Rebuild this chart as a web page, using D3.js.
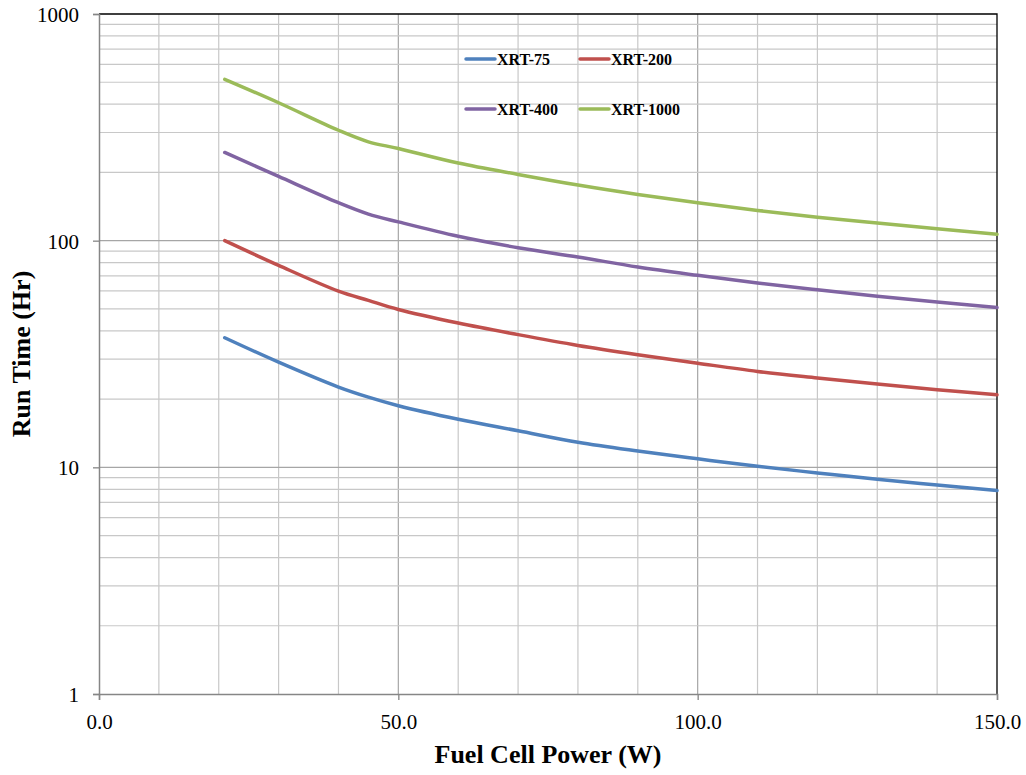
<!DOCTYPE html>
<html>
<head>
<meta charset="utf-8">
<script src="https://cdn.jsdelivr.net/npm/d3@7"></script>
<style>
  body { margin: 0; background: #fff; }
  svg { display: block; font-family: "Liberation Serif", "Times New Roman", serif; }
</style>
</head>
<body>
<div id="chart"></div>
<script>
// fuel cell power (W) where values were read
let powers = [21, 30, 40, 45, 50, 60, 70, 80, 90, 100, 110, 120, 130, 140, 150];

// run time (Hr) for each cartridge
let xrt75 = [37.3, 29.1, 22.6, 20.4, 18.7, 16.3, 14.5, 12.9, 11.8, 10.9, 10.1, 9.45, 8.85, 8.36, 7.9];
let xrt200 = [100, 77.8, 59.9, 54.5, 49.7, 43.3, 38.5, 34.5, 31.4, 28.8, 26.5, 24.8, 23.3, 22.0, 20.9];
let xrt400 = [245, 192, 147, 131, 121, 104.5, 93.1, 84.7, 76.5, 70.3, 65.0, 60.7, 56.9, 53.6, 50.7];
let xrt1000 = [515, 406, 307, 273, 255, 220, 196, 176, 160, 147, 136, 127, 119.7, 113, 106.7];

let seriesNames = ["XRT-75", "XRT-200", "XRT-400", "XRT-1000"];
let seriesColors = ["#4F81BD", "#C0504D", "#8064A2", "#9BBB59"];

let xTicks = [0, 50, 100, 150];
let yTicks = [1, 10, 100, 1000];

let width = 1026, height = 775;
let margin = {top: 14, right: 29, bottom: 81, left: 99};

let svg = d3.select("#chart").append("svg")
  .attr("width", width)
  .attr("height", height);

let x = d3.scaleLinear().domain([0, 150]).range([margin.left, width - margin.right]);
let y = d3.scaleLog().domain([1, 1000]).range([height - margin.bottom, margin.top]);

//vertical grid every 10 W
let xGrid = d3.range(10, 150, 10);
svg.append("g").selectAll("line")
  .data(xGrid)
  .enter().append("line")
  .attr("x1", d => x(d)).attr("x2", d => x(d))
  .attr("y1", y(1)).attr("y2", y(1000))
  .attr("stroke", d => d % 50 === 0 ? "#a6a6a6" : "#c8c8c8")
  .attr("stroke-width", 1.2);

//horizontal grid, minor lines 2..9 in each decade
let yMinor = [];
[1, 10, 100].forEach(function (dec) {
  for (let k = 2; k <= 9; k++) yMinor.push(dec * k);
});
svg.append("g").selectAll("line")
  .data(yMinor)
  .enter().append("line")
  .attr("x1", x(0)).attr("x2", x(150))
  .attr("y1", d => y(d)).attr("y2", d => y(d))
  .attr("stroke", "#c8c8c8")
  .attr("stroke-width", 1.2);

svg.append("g").selectAll("line")
  .data([10, 100])
  .enter().append("line")
  .attr("x1", x(0)).attr("x2", x(150))
  .attr("y1", d => y(d)).attr("y2", d => y(d))
  .attr("stroke", "#a6a6a6")
  .attr("stroke-width", 1.2);

//top and right border
svg.append("path")
  .attr("d", "M" + x(0) + "," + y(1000) + "H" + x(150) + "V" + y(1))
  .attr("fill", "none")
  .attr("stroke", "#000")
  .attr("stroke-width", 1.3);

//axes
let xAxis = d3.axisBottom(x).tickValues(xTicks).tickSize(6).tickPadding(14)
  .tickFormat(d3.format(".1f"));
let gx = svg.append("g")
  .attr("transform", "translate(0," + y(1) + ")")
  .call(xAxis);

let yAxis = d3.axisLeft(y).tickValues(yTicks).tickSize(6).tickPadding(14)
  .tickFormat(d3.format("d"));
let gy = svg.append("g")
  .attr("transform", "translate(" + x(0) + ",0)")
  .call(yAxis);

[gx, gy].forEach(function (g) {
  g.select(".domain").attr("stroke", "#868686").attr("stroke-width", 1.5);
  g.selectAll(".tick line").attr("stroke", "#868686").attr("stroke-width", 1.3);
  g.selectAll(".tick text")
    .attr("fill", "#000")
    .style("font-family", "Liberation Serif")
    .style("font-size", "21px");
});
gy.selectAll(".tick text").attr("dy", "0.35em");

//lines, smoothed like the spreadsheet original
let allSeries = [xrt75, xrt200, xrt400, xrt1000];
let line = d3.line()
  .x((d, i) => x(powers[i]))
  .y(d => y(d))
  .curve(d3.curveCatmullRom.alpha(0.5));

svg.append("g").selectAll("path")
  .data(allSeries)
  .enter().append("path")
  .attr("d", d => line(d))
  .attr("fill", "none")
  .attr("stroke", (d, i) => seriesColors[i])
  .attr("stroke-width", 3.5)
  .attr("stroke-linecap", "round");

//legend, two columns by two rows
let legend = svg.append("g")
  .selectAll("g")
  .data(seriesNames)
  .enter().append("g")
  .attr("transform", (d, i) => "translate(" + (466 + (i % 2) * 114) + "," + (59 + Math.floor(i / 2) * 50) + ")");

legend.append("line")
  .attr("x1", 0).attr("x2", 29)
  .attr("y1", 0).attr("y2", 0)
  .attr("stroke", (d, i) => seriesColors[i])
  .attr("stroke-width", 3.5)
  .attr("stroke-linecap", "round");

legend.append("text")
  .attr("x", 31)
  .attr("y", 0)
  .attr("dy", "0.35em")
  .style("font-size", "16px")
  .style("font-weight", "bold")
  .text(d => d);

//axis titles
svg.append("text")
  .attr("x", (x(0) + x(150)) / 2)
  .attr("y", 763)
  .attr("text-anchor", "middle")
  .style("font-size", "26px")
  .style("font-weight", "bold")
  .text("Fuel Cell Power (W)");

svg.append("text")
  .attr("transform", "translate(30," + (y(1) + y(1000)) / 2 + ") rotate(-90)")
  .attr("text-anchor", "middle")
  .style("font-size", "26px")
  .style("font-weight", "bold")
  .text("Run Time (Hr)");
</script>
</body>
</html>
